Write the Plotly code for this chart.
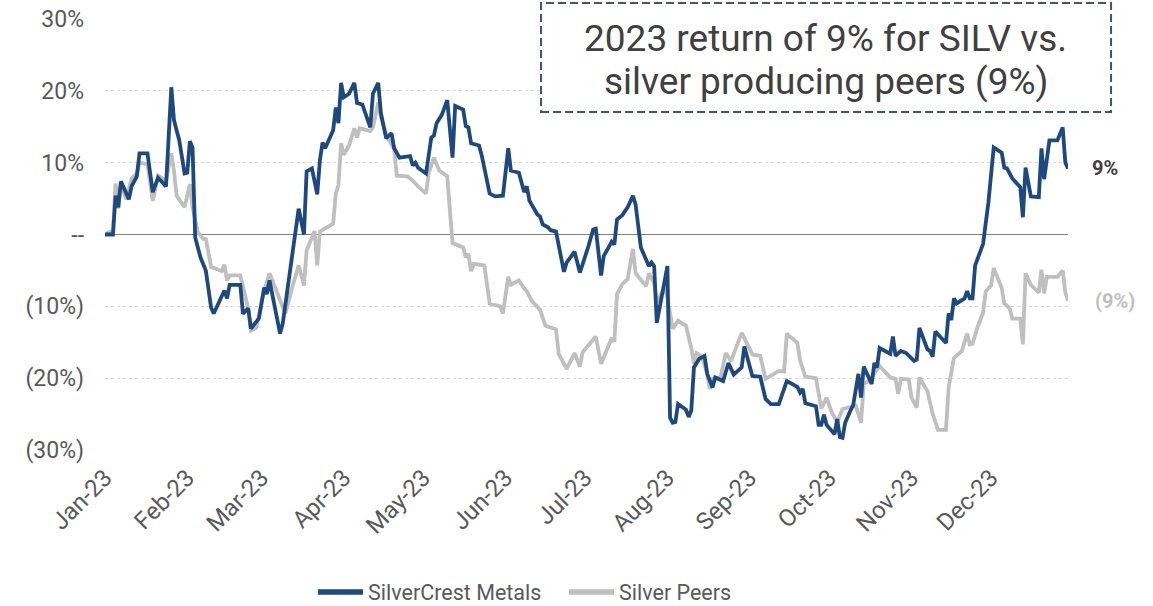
import pandas as pd
import plotly.graph_objects as go

# ---------------- data ----------------
# day offsets from 2023-01-01 and cumulative 2023 return in %
silv_day = [0, 3, 4, 5, 6, 9, 10, 12, 13, 16, 18, 20, 23, 25, 26, 28, 30, 31, 32, 33,
            34, 36, 38, 40, 41, 45, 46, 47, 51, 52, 54, 55, 58, 60, 61, 62, 66, 67, 73, 75,
            76, 78, 80, 81, 82, 83, 86, 87, 88, 89, 90, 92, 94, 95, 97, 100, 101, 103, 104, 106,
            108, 109, 111, 115, 116, 117, 118, 121, 123, 124, 125, 127, 129, 131, 132, 135, 136, 137, 138, 141,
            142, 145, 147, 150, 152, 153, 156, 158, 159, 160, 163, 164, 165, 167, 168, 170, 173, 174, 177, 179,
            182, 184, 185, 187, 188, 191, 192, 193, 195, 197, 199, 200, 202, 205, 206, 207, 208, 210, 212, 213,
            214, 215, 216, 219, 220, 221, 222, 224, 226, 227, 229, 230, 233, 235, 237, 240, 241, 244, 247, 249,
            251, 254, 257, 261, 262, 263, 264, 268, 269, 270, 271, 272, 275, 276, 277, 278, 279, 281, 282, 284,
            285, 286, 289, 290, 291, 292, 296, 297, 298, 300, 302, 305, 306, 307, 310, 311, 312, 313, 317, 318,
            319, 320, 321, 324, 325, 326, 327, 328, 331, 333, 335, 338, 339, 340, 342, 345, 346, 347, 348, 349,
            352, 353, 354, 356, 359, 361, 362, 363]
silv_ret = [0.0, 0.0, 5.4, 3.8, 7.4, 4.9, 6.7, 8.1, 11.3, 11.3, 5.9, 7.9, 6.7, 20.5, 15.9, 13.1, 8.5, 8.6, 13.0, 12.1,
            -0.4, -3.2, -5.0, -10.2, -11.0, -7.8, -8.9, -7.0, -7.0, -11.0, -10.3, -13.1, -11.7, -7.4, -8.3, -6.4, -13.8, -12.4, 3.6, 0.0,
            8.8, 9.2, 5.6, 10.3, 12.8, 12.0, 14.5, 17.7, 15.5, 21.1, 19.1, 19.6, 21.1, 18.3, 18.1, 14.9, 19.6, 21.1, 16.9, 13.4,
            14.1, 12.0, 10.7, 10.9, 9.6, 10.0, 9.3, 8.5, 13.5, 13.8, 15.5, 16.7, 18.7, 10.7, 17.9, 17.4, 15.1, 14.9, 12.7, 12.4,
            11.0, 5.7, 5.3, 5.4, 12.0, 8.9, 8.6, 5.9, 6.7, 4.7, 2.8, 2.5, 1.4, 1.0, 0.6, 0.4, -5.2, -3.9, -2.4, -5.3,
            -1.9, 0.7, 0.8, -5.7, -3.0, -1.0, -1.4, 2.1, 2.7, 3.8, 5.4, 4.2, -1.8, -4.4, -3.9, -4.4, -12.3, -8.6, -4.4, -25.5,
            -26.2, -26.1, -23.6, -24.4, -25.4, -24.5, -18.5, -17.3, -16.9, -19.4, -21.3, -19.9, -20.4, -17.9, -19.5, -18.5, -15.6, -19.7, -19.8, -22.9,
            -23.6, -23.6, -20.4, -21.2, -22.0, -21.5, -23.5, -23.9, -26.5, -26.5, -25.1, -26.5, -27.8, -25.7, -28.2, -28.3, -26.2, -24.5, -23.8, -19.4,
            -22.7, -18.4, -20.8, -17.9, -18.5, -15.8, -16.6, -14.2, -16.9, -16.2, -16.5, -17.6, -17.4, -13.0, -16.0, -16.2, -17.0, -13.5, -15.1, -11.0,
            -11.9, -8.9, -9.6, -8.9, -7.9, -8.9, -8.9, -4.3, -1.3, 4.5, 12.1, 11.4, 9.3, 9.2, 7.8, 6.6, 2.4, 9.3, 7.5, 5.3,
            5.2, 12.0, 7.7, 13.1, 13.1, 14.9, 10.0, 9.2]

peer_day = [0, 3, 4, 5, 6, 8, 10, 12, 13, 16, 18, 20, 23, 25, 26, 27, 30, 32, 33, 35,
            37, 38, 40, 44, 45, 46, 47, 51, 54, 55, 57, 60, 62, 65, 68, 71, 73, 75, 76, 79,
            80, 81, 86, 87, 88, 89, 90, 92, 94, 95, 96, 100, 101, 103, 104, 106, 109, 110, 114, 116,
            118, 121, 122, 124, 125, 126, 129, 131, 135, 136, 137, 138, 139, 143, 145, 149, 150, 152, 153, 156,
            158, 159, 161, 164, 166, 170, 171, 174, 177, 179, 180, 185, 187, 191, 192, 193, 195, 197, 199, 200,
            204, 205, 207, 208, 211, 212, 214, 216, 219, 221, 222, 223, 225, 227, 228, 229, 232, 234, 236, 237,
            240, 244, 247, 249, 254, 256, 257, 261, 262, 264, 268, 270, 272, 274, 276, 278, 282, 283, 285, 286,
            288, 292, 296, 298, 299, 300, 303, 304, 306, 307, 310, 312, 314, 317, 318, 320, 323, 325, 326, 327,
            329, 331, 332, 334, 335, 338, 339, 341, 342, 345, 346, 347, 349, 352, 353, 354, 355, 359, 361, 362,
            363]
peer_ret = [0.0, 0.6, 7.1, 3.6, 7.1, 4.9, 7.8, 8.5, 10.0, 9.8, 4.7, 8.2, 7.5, 11.3, 8.9, 5.4, 3.8, 7.0, 3.8, 0.3,
            -0.6, -0.6, -4.5, -5.1, -4.2, -6.4, -5.7, -5.7, -10.3, -13.4, -13.0, -7.8, -5.4, -8.3, -11.0, -6.8, -4.3, -7.1, -2.2, 0.5,
            -4.3, 0.4, 1.5, 5.7, 6.9, 12.7, 11.1, 12.4, 14.8, 13.5, 14.8, 14.4, 14.9, 18.4, 16.3, 13.8, 11.9, 8.2, 8.1, 7.5,
            6.7, 5.7, 8.5, 10.7, 9.6, 8.9, 8.1, -1.2, -1.8, -3.2, -2.7, -5.1, -4.1, -4.3, -9.6, -10.0, -11.0, -5.9, -7.0, -6.4,
            -7.5, -7.9, -9.3, -10.5, -12.7, -13.2, -16.6, -18.7, -16.5, -18.4, -16.4, -14.2, -18.0, -14.4, -14.9, -8.3, -6.9, -6.2, -2.0, -5.4,
            -7.2, -5.4, -6.8, -9.4, -7.4, -8.8, -13.1, -12.0, -12.7, -15.8, -18.0, -16.5, -17.0, -19.4, -21.5, -20.1, -19.9, -16.5, -17.6, -16.6,
            -13.7, -16.7, -16.9, -20.1, -19.0, -19.1, -13.8, -15.1, -17.5, -19.8, -20.0, -24.2, -22.7, -24.8, -26.1, -24.3, -23.8, -23.8, -26.2, -20.8,
            -20.4, -18.3, -19.9, -20.1, -22.2, -20.1, -20.2, -22.7, -24.1, -19.9, -21.8, -25.0, -27.2, -27.2, -21.3, -17.2, -16.2, -13.8, -15.3, -15.2,
            -12.8, -10.9, -7.9, -7.1, -4.7, -7.4, -9.6, -10.3, -11.7, -11.7, -15.3, -5.4, -7.0, -8.1, -4.9, -8.2, -5.9, -5.9, -5.0, -8.1,
            -9.2]

tick_dates = ["2023-01-01", "2023-02-01", "2023-03-01", "2023-04-01", "2023-05-01", "2023-06-01",
              "2023-07-01", "2023-08-01", "2023-09-01", "2023-10-01", "2023-11-01", "2023-12-01"]
tick_labels = ["Jan-23", "Feb-23", "Mar-23", "Apr-23", "May-23", "Jun-23",
               "Jul-23", "Aug-23", "Sep-23", "Oct-23", "Nov-23", "Dec-23"]
y_ticks = [30, 20, 10, 0, -10, -20, -30]
y_labels = ["30%", "20%", "10%", "--", "(10%)", "(20%)", "(30%)"]
series_names = ["SilverCrest Metals", "Silver Peers"]
callout_lines = ["2023 return of 9% for SILV vs.", "silver producing peers (9%)"]

BLUE = "#1F497D"
GREY = "#BFBFBF"
FONT = "Roboto"

base = pd.Timestamp("2023-01-01")


def to_dates(days):
    return [base + pd.Timedelta(days=int(d)) for d in days]


def fmt_pct(v):
    r = round(v)
    return f"{r}%" if r >= 0 else f"({abs(r)}%)"


fig = go.Figure()
# data lines (legend handled by the legend-only entries below, drawn with a bolder key)
fig.add_trace(go.Scatter(x=to_dates(peer_day), y=peer_ret, mode="lines", name=series_names[1],
                         line=dict(color=GREY, width=3.8), showlegend=False, hoverinfo="skip"))
fig.add_trace(go.Scatter(x=to_dates(silv_day), y=silv_ret, mode="lines", name=series_names[0],
                         line=dict(color=BLUE, width=3.8), showlegend=False, hoverinfo="skip"))
fig.add_trace(go.Scatter(x=[None], y=[None], mode="lines", name=series_names[0],
                         line=dict(color=BLUE, width=5.5), legendrank=1))
fig.add_trace(go.Scatter(x=[None], y=[None], mode="lines", name=series_names[1],
                         line=dict(color=GREY, width=5.5), legendrank=2))

x_end = to_dates([silv_day[-1]])[0]

fig.update_layout(
    width=1153, height=606,
    margin=dict(l=105, r=85, t=19, b=156, autoexpand=False),
    plot_bgcolor="white", paper_bgcolor="white",
    font=dict(family=FONT, color="#595959"),
    showlegend=True, hovermode=False,
    legend=dict(orientation="h", x=0.216, xanchor="left", y=-0.3295, yanchor="middle",
                itemwidth=45, entrywidth=191, entrywidthmode="pixels",
                font=dict(size=21.5, color="#595959", family=FONT), bgcolor="rgba(0,0,0,0)"),
    xaxis=dict(type="date", range=[base, to_dates([peer_day[-1]])[0]],
               tickmode="array", tickvals=tick_dates, ticktext=tick_labels,
               tickangle=-45, tickfont=dict(size=24, color="#595959", family=FONT),
               showgrid=False, zeroline=False, showline=False, ticks="",
               ticklabelstandoff=8, automargin=False, ticklabeloverflow="allow"),
    yaxis=dict(range=[-30, 30], tickmode="array", tickvals=y_ticks, ticktext=y_labels,
               tickfont=dict(size=23, color="#595959", family=FONT),
               showgrid=True, gridcolor="#D9D9D9", griddash="dot", gridwidth=1,
               zeroline=True, zerolinecolor="#808080", zerolinewidth=1.5,
               showline=False, ticks="", ticklabelstandoff=20, automargin=False,
               ticklabeloverflow="allow"),
)

# dashed callout box
fig.add_shape(type="rect", xref="paper", yref="paper",
              x0=0.4528, x1=1.0447, y0=0.7842, y1=1.0371,
              line=dict(color="#44546A", width=2, dash="8px,4px"), fillcolor="white", layer="above")
fig.add_annotation(xref="paper", yref="paper", x=0.7487, y=0.9559, text=callout_lines[0],
                   showarrow=False, xanchor="center", yanchor="middle",
                   font=dict(size=37, color="#404040", family=FONT))
fig.add_annotation(xref="paper", yref="paper", x=0.7487, y=0.8561, text=callout_lines[1],
                   showarrow=False, xanchor="center", yanchor="middle",
                   font=dict(size=37, color="#404040", family=FONT))

# end-of-series labels
fig.add_annotation(x=x_end, y=silv_ret[-1], xref="x", yref="y", text="<b>" + fmt_pct(silv_ret[-1]) + "</b>",
                   showarrow=False, xanchor="left", yanchor="middle", xshift=22,
                   font=dict(size=20, color="#404040", family=FONT))
fig.add_annotation(x=x_end, y=peer_ret[-1], xref="x", yref="y", text="<b>" + fmt_pct(peer_ret[-1]) + "</b>",
                   showarrow=False, xanchor="left", yanchor="middle", xshift=25,
                   font=dict(size=20, color=GREY, family=FONT))

# remove the browser's default 8px body margin so the 1153x606 figure fills the window exactly
fig.write_html("out.html", config={"displayModeBar": False, "staticPlot": True},
               post_script="document.body.style.margin='0';document.body.style.overflow='hidden';")
